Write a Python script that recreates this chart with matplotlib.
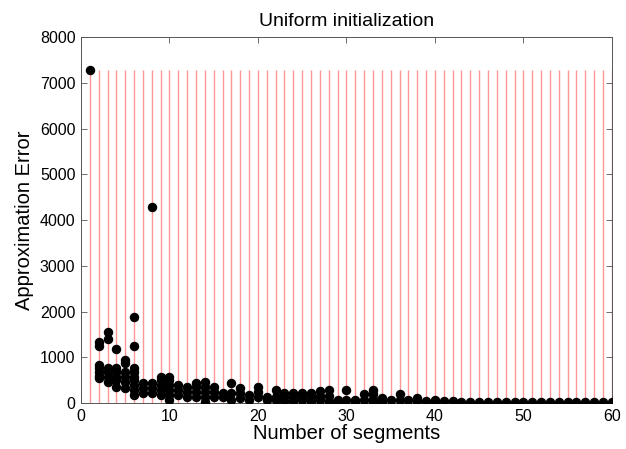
import matplotlib
matplotlib.use('Agg')
import matplotlib.pyplot as plt
import numpy as np

plt.rcParams.update({'font.family':['Liberation Sans','DejaVu Sans']})

# number of segments -> approximation errors of the runs
segments=list(range(1,61))
errors=[
    [7280],
    [1340,1250,830,760,680,580,540],
    [1560,1410,760,685,575,465],
    [1180,760,685,575,500,360],
    [940,870,685,575,465,320],
    [1870,1245,760,685,575,500,390,285,175],
    [430,320,210],
    [4280,430,320,210],
    [575,500,390,285,175],
    [575,500,390,285,175,65],
    [390,285,175],
    [360,250,140],
    [430,360,250,140],
    [465,360,250,140,30],
    [360,250,140],
    [210,140],
    [430,210,65],
    [320,210,100],
    [175,65],
    [360,250,140],
    [140,65],
    [285,140,65],
    [210,140,50],
    [230,140,50],
    [220,150,60],
    [230,140,50],
    [270,150,60],
    [280,150,50],
    [60,20],
    [290,60],
    [60,20],
    [200,60],
    [280,200,80,30],
    [100,40],
    [60],
    [200,60],
    [60],
    [120,40],
    [50],
    [60,30],
    [50],
    [40],
]+[[30]]*18

xlim=(0,60); ylim=(0,8000)
xticks=list(range(0,61,10)); yticks=list(range(0,8001,1000))

fig=plt.figure(figsize=(6.26,4.49),dpi=100)
ax=fig.add_axes([0.1294,0.1024,0.848,0.815])

top=max(max(e) for e in errors)
ax.vlines(segments,0,top,colors='#ff9595',lw=1.0,zorder=1)
xs=[k for k,e in zip(segments,errors) for _ in e]
ys=[v for e in errors for v in e]
ax.plot(xs,ys,'o',color='black',ms=5.8,zorder=3)

ax.set_xlim(*xlim); ax.set_ylim(*ylim)
ax.set_xticks(xticks); ax.set_yticks(yticks)
ax.tick_params(direction='in',top=True,right=True,labelsize=11.5,length=4,width=0.6,color='#555',pad=4)
for sp in ax.spines.values(): sp.set_linewidth(0.7); sp.set_color('#555')
ax.set_xlabel('Number of segments',fontsize=14.5,labelpad=0)
ax.set_ylabel('Approximation Error',fontsize=14.5,labelpad=4)
ax.set_title('Uniform initialization',fontsize=14,pad=8)

fig.savefig('out.png',dpi=100)
